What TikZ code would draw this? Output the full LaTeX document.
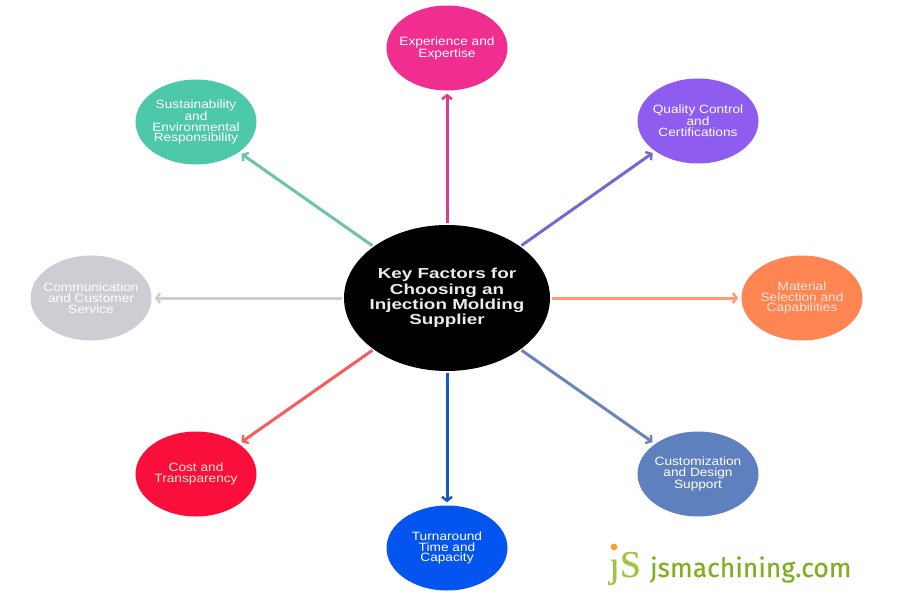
\documentclass[tikz,border=0pt]{standalone}
\usepackage{fontspec}
\setmainfont{Liberation Sans}
\newfontfamily\widefont[FakeStretch=1.14]{Liberation Sans}
\newfontfamily\hubfont[FakeStretch=1.3]{Liberation Sans Bold}
\newfontfamily\logofont[FakeBold=0.4]{Fira Sans}
\newfontfamily\logoserif[FakeBold=0.3]{Liberation Serif}
\usetikzlibrary{shapes.geometric,arrows.meta}
\definecolor{pinkc}{HTML}{F02E90}
\definecolor{purplec}{HTML}{8E5CEE}
\definecolor{orangec}{HTML}{FF8552}
\definecolor{steelc}{HTML}{5F80BE}
\definecolor{bluec}{HTML}{0455F0}
\definecolor{redc}{HTML}{FA0F3C}
\definecolor{greyc}{HTML}{CDCDD3}
\definecolor{tealc}{HTML}{4DC8A9}
\definecolor{pinkl}{HTML}{DB3C8C}
\definecolor{purplel}{HTML}{7A66CC}
\definecolor{orangel}{HTML}{FF9B73}
\definecolor{steell}{HTML}{6C84BE}
\definecolor{bluel}{HTML}{1E55CC}
\definecolor{redl}{HTML}{FA5C5C}
\definecolor{greyl}{HTML}{CDCDD6}
\definecolor{teall}{HTML}{6CC6A6}
\definecolor{logoc}{HTML}{7FB01E}
\definecolor{logol}{HTML}{9CC83C}
\definecolor{logod}{HTML}{F7A02C}
\tikzset{
  factor/.style={ellipse,fill=#1,text=white,minimum width=121pt,minimum height=85pt,
    inner xsep=-20pt,inner ysep=0pt,align=center,font=\widefont\fontsize{12}{10.8}\selectfont},
  link/.style={draw=#1,line width=3pt,-{Straight Barb[length=4pt,width=10pt,line width=2.4pt]},
    shorten >=3pt,shorten <=1.5pt}
}
\begin{document}
\begin{tikzpicture}[x=1pt,y=-1pt]
	\useasboundingbox (0,0) rectangle (900,600);
	\node[ellipse,fill=black,text=white!92!black,minimum width=206pt,minimum height=146pt,
		inner xsep=-20pt,inner ysep=0pt,align=center,font=\hubfont\fontsize{14.5}{15.2}\selectfont](hub)
		at (447,298) {Key Factors for\\Choosing an\\Injection Molding\\Supplier};
	\node[factor=pinkc](experience) at (447,48) {Experience and\\Expertise};
	\node[factor=purplec](quality) at (698,121) {Quality Control\\and\\Certifications};
	\node[factor=orangec,text=white!80!orangec](material) at (802,298) {Material\\Selection and\\Capabilities};
	\node[factor=steelc](custom) at (698,474) {Customization\\and Design\\Support};
	\node[factor=bluec](turnaround) at (447,548) {Turnaround\\Time and\\Capacity};
	\node[factor=redc,text=white!80!orange](cost) at (196,474) {Cost and\\Transparency};
	\node[factor=greyc](comm) at (91,298) {Communication\\and Customer\\Service};
	\node[factor=tealc](sustain) at (196,122) {Sustainability\\and\\Environmental\\Responsibility};
	\foreach \target/\col in {experience/pinkl,quality/purplel,material/orangel,custom/steell,
		turnaround/bluel,cost/redl,comm/greyl,sustain/teall}
		\draw[link=\col] (hub) -- (\target);
	% logo
	\node[inner sep=0pt,anchor=base west,text=logol,font=\logoserif\fontsize{38}{38}\selectfont](logomark)
		at (609,577) {\char"0237 S};
	\fill[logod] (614,547) circle (3.4);
	\node[inner sep=0pt,anchor=base west,text=logoc,font=\logofont\fontsize{26.5}{26.5}\selectfont](logotext)
		at (650,577) {jsmachining.com};
\end{tikzpicture}
\end{document}
